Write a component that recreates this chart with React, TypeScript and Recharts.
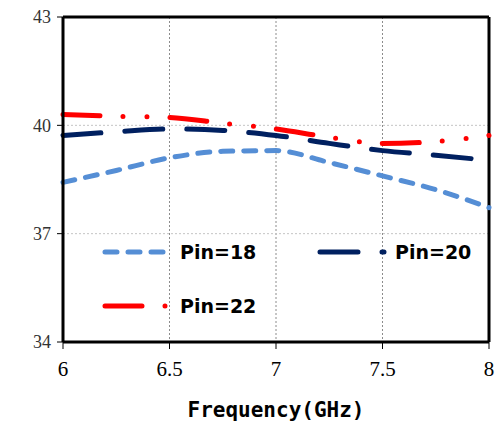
import { LineChart, Line, XAxis, YAxis, CartesianGrid, Legend, ReferenceLine } from 'recharts'

const freq = [6, 6.25, 6.5, 6.75, 7, 7.25, 7.5, 7.75, 8]
const pin18 = [38.42, 38.75, 39.1, 39.28, 39.3, 38.97, 38.6, 38.22, 37.72]
const pin20 = [39.72, 39.82, 39.9, 39.86, 39.72, 39.5, 39.3, 39.17, 39.03]
const pin22 = [40.3, 40.25, 40.22, 40.06, 39.9, 39.67, 39.5, 39.55, 39.72]
const xTicks = [6, 6.5, 7, 7.5, 8]
const yTicks = [34, 37, 40, 43]

const series = [
  { key: 'pin18', name: 'Pin=18', color: '#558ed5', dash: '12 11' },
  { key: 'pin20', name: 'Pin=20', color: '#002060', dash: '38 24' },
  { key: 'pin22', name: 'Pin=22', color: '#ff0000', dash: '37 23 0 24 0 23' },
]

const data = freq.map((f, i) => ({ f, pin18: pin18[i], pin20: pin20[i], pin22: pin22[i] }))

// legend sits inside the plot, two rows
const legendPos = [
  { left: 102, top: 240 },
  { left: 317, top: 240 },
  { left: 102, top: 294 },
]

function ChartLegend() {
  return (
    <div>
      {series.map((s, i) => (
        <div
          key={s.key}
          style={{ position: 'absolute', left: legendPos[i].left, top: legendPos[i].top, display: 'flex', alignItems: 'center' }}
        >
          <svg width={70} height={24}>
            <line x1={3} y1={12} x2={67} y2={12} stroke={s.color} strokeWidth={5} strokeLinecap="round" strokeDasharray={s.dash} />
          </svg>
          <span style={{ marginLeft: 8, fontFamily: 'DejaVu Sans', fontWeight: 'bold', fontSize: 19, color: '#000' }}>{s.name}</span>
        </div>
      ))}
    </div>
  )
}

export default function App() {
  return (
    <div style={{ position: 'absolute', left: 0, top: 0, width: 497, height: 424, background: '#fff' }}>
      <LineChart width={497} height={424} data={data} margin={{ top: 17, right: 8, bottom: 0, left: 0 }}>
        <CartesianGrid horizontal={false} stroke="#8c8c8c" strokeDasharray="2 2" />
        <CartesianGrid vertical={false} stroke="#c4c4c4" strokeDasharray="2 2" />
        <XAxis
          dataKey="f"
          type="number"
          domain={[6, 8]}
          ticks={xTicks}
          height={82}
          axisLine={{ stroke: '#000', strokeWidth: 3 }}
          tickLine={{ stroke: '#000', strokeWidth: 1 }}
          tickSize={7}
          tick={{ fill: '#000', fontSize: 21, fontFamily: 'Liberation Serif' }}
          tickMargin={12}
          label={{ value: 'Frequency(GHz)', position: 'insideBottom', offset: 7, fill: '#000', fontSize: 21, fontWeight: 'bold', fontFamily: 'DejaVu Sans Mono' }}
        />
        <YAxis
          type="number"
          domain={[34, 43]}
          ticks={yTicks}
          width={63}
          axisLine={{ stroke: '#000', strokeWidth: 3 }}
          tickLine={{ stroke: '#000', strokeWidth: 1 }}
          tickSize={6}
          tickMargin={6}
          tick={{ fill: '#333', fontSize: 18, fontFamily: 'Liberation Serif' }}
        />
        <ReferenceLine y={43} stroke="#000" strokeWidth={3} />
        <ReferenceLine x={8} stroke="#000" strokeWidth={3} />
        {series.map(s => (
          <Line
            key={s.key}
            dataKey={s.key}
            name={s.name}
            type="monotone"
            stroke={s.color}
            strokeWidth={5}
            strokeLinecap="round"
            strokeDasharray={s.dash}
            dot={false}
            activeDot={false}
            isAnimationActive={false}
          />
        ))}
        <Legend content={() => <ChartLegend />} wrapperStyle={{ position: 'absolute', left: 0, top: 0, width: 0, height: 0 }} />
      </LineChart>
    </div>
  )
}
